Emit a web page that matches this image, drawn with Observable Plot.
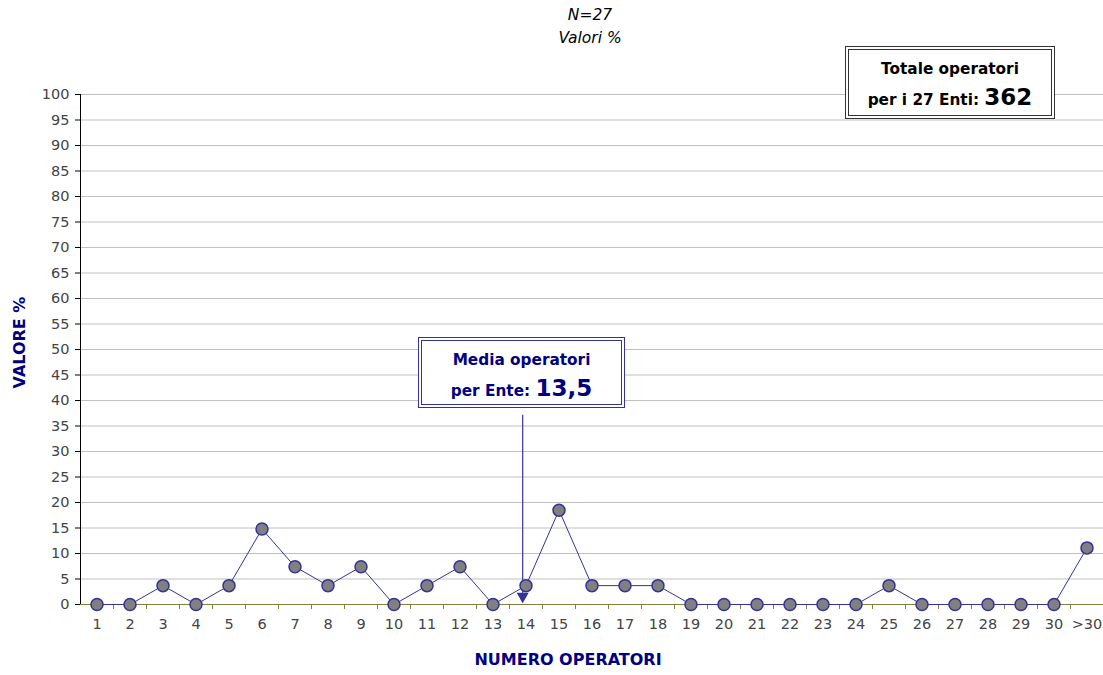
<!DOCTYPE html>
<html><head><meta charset="utf-8">
<script src="https://cdn.jsdelivr.net/npm/d3@7"></script>
<script src="https://cdn.jsdelivr.net/npm/@observablehq/plot@0.6"></script>
<style>
body{margin:0;background:#fff;font-family:"DejaVu Sans",Verdana,sans-serif;}
#wrap{position:relative;width:1103px;height:675px;overflow:hidden;background:#fff}
#title{width:1180px;height:50px;text-align:center;font-style:italic;font-size:15.5px;line-height:23px;padding-top:4px;box-sizing:border-box;color:#000}
.box{position:absolute;box-sizing:border-box;text-align:center;font-weight:bold;font-size:15.3px;line-height:28px;padding-top:5px;background:#fff}
#box1{left:845px;top:46px;width:210px;height:73px;border:4px double #333;color:#000}
#box2{left:418px;top:337px;width:207px;height:71px;border:4px double #333399;color:#000080}
.big{font-size:23px}
#chart svg text{fill:#444}
#chart svg g[aria-label*="tick label"]{font-size:14.5px !important}
</style></head>
<body>
<div id="wrap">
<div id="title">N=27<br>Valori %</div>
<div id="chart"></div>
<div class="box" id="box1">Totale operatori<br>per i 27 Enti: <span class="big">362</span></div>
<div class="box" id="box2">Media operatori<br>per Ente: <span class="big">13,5</span></div>
</div>
<script>
const categories = ["1","2","3","4","5","6","7","8","9","10","11","12","13","14","15","16","17","18","19","20","21","22","23","24","25","26","27","28","29","30",">30"];
const values = [0,0,3.7,0,3.7,14.8,7.4,3.7,7.4,0,3.7,7.4,0,3.7,18.5,3.7,3.7,3.7,0,0,0,0,0,0,3.7,0,0,0,0,0,11.1];
const yTicks = d3.range(0, 101, 5);
const xLabel = "NUMERO OPERATORI";
const yLabel = "VALORE %";
const arrowX = [13.9];
const arrowTop = 37.1, arrowBottom = 1.6;

const data = categories.map((c, i) => ({i: i + 1, cat: c, v: values[i]}));
const idx = categories.map((c, i) => i + 1);
const bounds = idx.slice(0, -1).map(i => i + 0.5);

const navy = "#333399";
const olive = "#808040";

const chart = Plot.plot({
  width: 1103,
  height: 625,
  marginTop: 44,
  marginBottom: 71,
  marginLeft: 80,
  marginRight: 0,
  style: {fontFamily: "'DejaVu Sans', Verdana, sans-serif", fontSize: "14px", background: "#fff"},
  x: {type: "linear", domain: [0.5, categories.length + 0.5], axis: null},
  y: {domain: [0, 100], axis: null},
  marks: [
    Plot.gridY(yTicks.filter(t => t > 0), {stroke: "#c0c0c0", strokeOpacity: 1}),
    Plot.axisY({ticks: yTicks, tickSize: 5, tickPadding: 6, stroke: "#000", fontSize: 14.5, label: null}),
    Plot.ruleX([0.5], {y1: 0, y2: 100, stroke: "#000"}),
    Plot.ruleY([0], {stroke: olive, strokeWidth: 1.2}),
    Plot.axisX({ticks: bounds, tickSize: 5, stroke: olive, tickFormat: () => "", label: null}),
    Plot.axisX({ticks: idx, tickSize: 0, tickPadding: 14, fontSize: 14.5, tickFormat: i => categories[i - 1], label: null}),
    Plot.ruleX(arrowX, {y1: arrowTop, y2: arrowBottom, stroke: navy, strokeWidth: 1.2}),
    Plot.dot(arrowX, {x: d => d, y: [arrowBottom], symbol: "triangle", rotate: 180, r: 3.5, fill: navy, stroke: navy}),
    Plot.line(data, {x: "i", y: "v", stroke: navy, strokeWidth: 1}),
    Plot.dot(data, {x: "i", y: "v", r: 6, fill: "#808080", stroke: navy, strokeWidth: 1.5}),
    Plot.text([yLabel], {frameAnchor: "left", textAnchor: "middle", dx: -61, dy: -7, rotate: -90, fontWeight: "bold", fontSize: 16, className: "lbl"}),
    Plot.text([xLabel], {frameAnchor: "bottom", dx: -24, dy: 60, fontWeight: "bold", fontSize: 16, className: "lbl"})
  ]
});
document.getElementById("chart").appendChild(chart);
chart.querySelectorAll("g.lbl text, text.lbl, g.lbl").forEach(t => t.style.fill = "#000080");
</script>
</body></html>
